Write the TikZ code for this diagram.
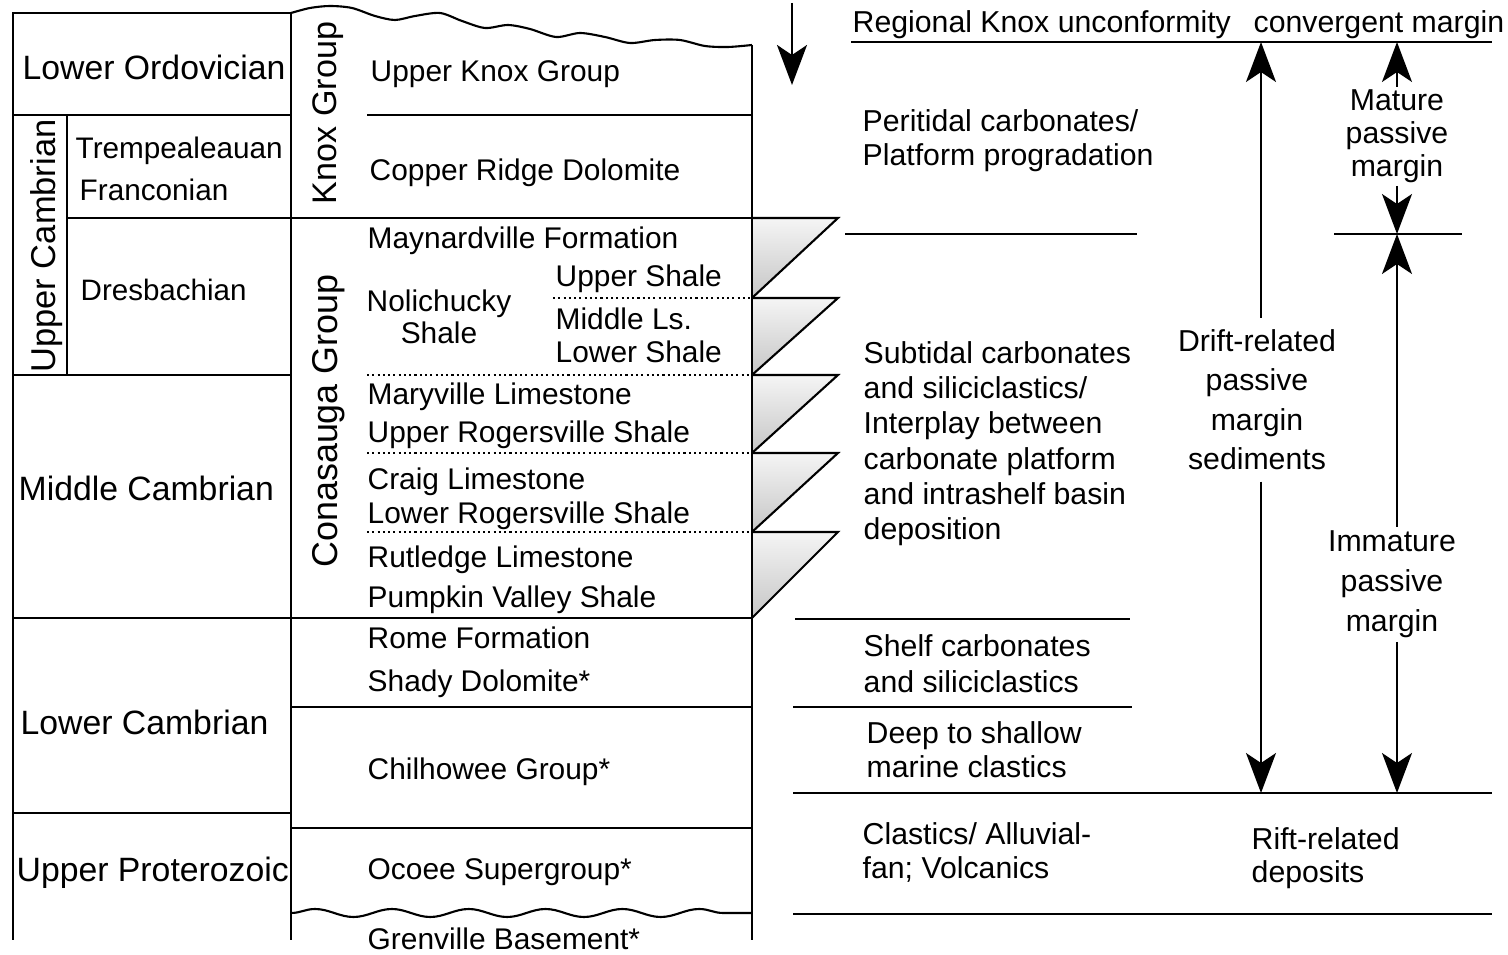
\documentclass[tikz,border=0pt]{standalone}
\usepackage{fontspec}
\setmainfont{Liberation Sans}
\usetikzlibrary{arrows.meta,decorations.pathmorphing}

\begin{document}
\begin{tikzpicture}[
	x=0.01cm, y=-0.01cm,
	rule/.style={line width=0.6pt},
	contact/.style={line width=0.5pt, dash pattern=on 0.6pt off 0.9pt},
	tongue/.style={top color=gray!8, bottom color=gray!45},
	stage/.style={font=\fontsize{9.6}{11}\selectfont, inner sep=0pt, anchor=base west},
	unit/.style={font=\fontsize{8.5}{10}\selectfont, inner sep=0pt, anchor=base west},
	group/.style={font=\fontsize{9.7}{11}\selectfont, inner sep=0pt, anchor=base, rotate=90},
	note/.style={font=\fontsize{8.6}{10}\selectfont, inner sep=0pt, align=left, anchor=north west},
	tag/.style={inner xsep=0pt, align=center, anchor=north},
	span/.style={line width=0.45pt, -{Stealth[length=4mm, width=3mm, inset=1mm]}}
]
\useasboundingbox (0,0) rectangle (1508,955);

\foreach \t/\b in {218/298,298/375,375/453,453/532,532/618}{
	\shade[tongue] (752,\t) -- (838,\t) -- (752,\b) -- cycle;
	\draw[rule] (752,\t) -- (838,\t) -- (752,\b);
}

\draw[rule] (13,940) -- (13,13) -- (291,13);
\draw[rule] (291,13) -- (291,940);
\draw[rule] (752,45) -- (752,940);
\draw[rule] (13,115) -- (291,115);
\draw[rule] (67,115) -- (67,375);
\draw[rule] (367,115) -- (752,115);
\draw[rule] (67,218) -- (752,218);
\draw[rule] (13,375) -- (291,375);
\draw[rule] (13,618) -- (752,618);
\draw[rule] (291,707) -- (752,707);
\draw[rule] (13,813) -- (291,813);
\draw[rule] (291,828) -- (752,828);
\draw[contact] (553,298) -- (752,298);
\foreach \y in {375,453,532}
	\draw[contact] (367,\y) -- (752,\y);
\draw[rule] plot[smooth] coordinates {(291,13) (310,8) (330,6) (352,8) (375,16) (395,20) (415,16) (440,13) (462,21) (485,28) (508,25) (530,29) (556,37) (580,33) (605,37) (630,43) (655,40) (680,40) (705,46) (728,47) (752,45)};
\draw[rule, decorate, decoration={snake, segment length=0.768cm, amplitude=0.04cm}] (291,913) -- (752,913);

\draw[rule] (851,42) -- (1492,42);
\draw[rule] (845,234) -- (1137,234);
\draw[rule] (1334,234) -- (1462,234);
\draw[rule] (795,619) -- (1130,619);
\draw[rule] (793,707) -- (1132,707);
\draw[rule] (793,793) -- (1492,793);
\draw[rule] (793,914) -- (1492,914);

\node[stage] (ordovician) at (22,80) {Lower Ordovician};
\node[group, font=\fontsize{9.8}{11}\selectfont] (uppercambrian) at (55,246) {Upper Cambrian};
\node[unit, font=\fontsize{8.45}{10}\selectfont] (trempealeauan) at (75,159) {Trempealeauan};
\node[unit, font=\fontsize{8.45}{10}\selectfont] (franconian) at (79,201) {Franconian};
\node[unit, font=\fontsize{8.4}{10}\selectfont] (dresbachian) at (80,301) {Dresbachian};
\node[stage] (middlecambrian) at (18,501) {Middle Cambrian};
\node[stage] (lowercambrian) at (20,735) {Lower Cambrian};
\node[stage] (proterozoic) at (16,882) {Upper Proterozoic};

\node[group] (knox) at (336,113) {Knox Group};
\node[group, font=\fontsize{10.2}{11}\selectfont] (conasauga) at (337,421) {Conasauga Group};

\node[unit] (upperknox) at (370,82) {Upper Knox Group};
\node[unit] (copperridge) at (369,181) {Copper Ridge Dolomite};
\node[unit] (maynardville) at (367,249) {Maynardville Formation};
\node[unit, anchor=north, align=center, font=\fontsize{8.5}{9.1}\selectfont] (nolichucky) at (439,289) {Nolichucky\\Shale};
\node[unit] (uppershale) at (555,287) {Upper Shale};
\node[unit] (middlels) at (555,330) {Middle Ls.};
\node[unit] (lowershale) at (555,363) {Lower Shale};
\node[unit] (maryville) at (367,405) {Maryville Limestone};
\node[unit] (upperrogersville) at (367,443) {Upper Rogersville Shale};
\node[unit] (craig) at (367,490) {Craig Limestone};
\node[unit] (lowerrogersville) at (367,524) {Lower Rogersville Shale};
\node[unit] (rutledge) at (367,568) {Rutledge Limestone};
\node[unit] (pumpkinvalley) at (367,608) {Pumpkin Valley Shale};
\node[unit] (rome) at (367,649) {Rome Formation};
\node[unit] (shady) at (367,692) {Shady Dolomite*};
\node[unit] (chilhowee) at (367,780) {Chilhowee Group*};
\node[unit] (ocoee) at (367,880) {Ocoee Supergroup*};
\node[unit] (grenville) at (367,950) {Grenville Basement*};

\node[unit, font=\fontsize{8.6}{10}\selectfont] (unconformity) at (852,33) {Regional Knox unconformity};
\node[unit, font=\fontsize{8.6}{10}\selectfont] (convergent) at (1253,33) {convergent margin};
\node[note, font=\fontsize{8.6}{9.7}\selectfont] (peritidal) at (862,109) {Peritidal carbonates/\\Platform progradation};
\node[note] (subtidal) at (863,341) {Subtidal carbonates\\and siliciclastics/\\Interplay between\\carbonate platform\\and intrashelf basin\\deposition};
\node[note, font=\fontsize{8.6}{10.1}\selectfont] (shelf) at (863,634) {Shelf carbonates\\and siliciclastics};
\node[note, font=\fontsize{8.6}{9.7}\selectfont] (deepshallow) at (866,721) {Deep to shallow\\marine clastics};
\node[note, font=\fontsize{8.6}{9.7}\selectfont] (clastics) at (862,822) {Clastics/ Alluvial-\\fan; Volcanics};
\node[note, font=\fontsize{8.6}{9.4}\selectfont] (rift) at (1251,827) {Rift-related\\deposits};

\node[tag, inner ysep=3.1pt, font=\fontsize{8.6}{11.2}\selectfont] (drift) at (1257,318) {Drift-related\\passive\\margin\\sediments};
\node[tag, inner ysep=0.6pt, font=\fontsize{8.6}{9.4}\selectfont] (mature) at (1397,87) {Mature\\passive\\margin};
\node[tag, inner ysep=0.9pt, font=\fontsize{8.6}{11.4}\selectfont] (immature) at (1392,527) {Immature\\passive\\margin};

\coordinate (drifttop) at (1261,42);
\coordinate (driftfoot) at (1261,793);
\coordinate (maturetop) at (1397,42);
\coordinate (hinge) at (1397,234);
\coordinate (immaturefoot) at (1397,793);
\coordinate (erosion) at (792,3);
\coordinate (erosiontip) at (792,85);

\draw[span] (drift.north -| drifttop) -- (drifttop);
\draw[span] (drift.south -| drifttop) -- (driftfoot);
\draw[span] (mature.north) -- (maturetop);
\draw[span] (mature.south) -- (hinge);
\draw[span] (immature.north -| hinge) -- (hinge);
\draw[span] (immature.south -| hinge) -- (immaturefoot);
\draw[span, line width=0.6pt] (erosion) -- (erosiontip);
\end{tikzpicture}
\end{document}
